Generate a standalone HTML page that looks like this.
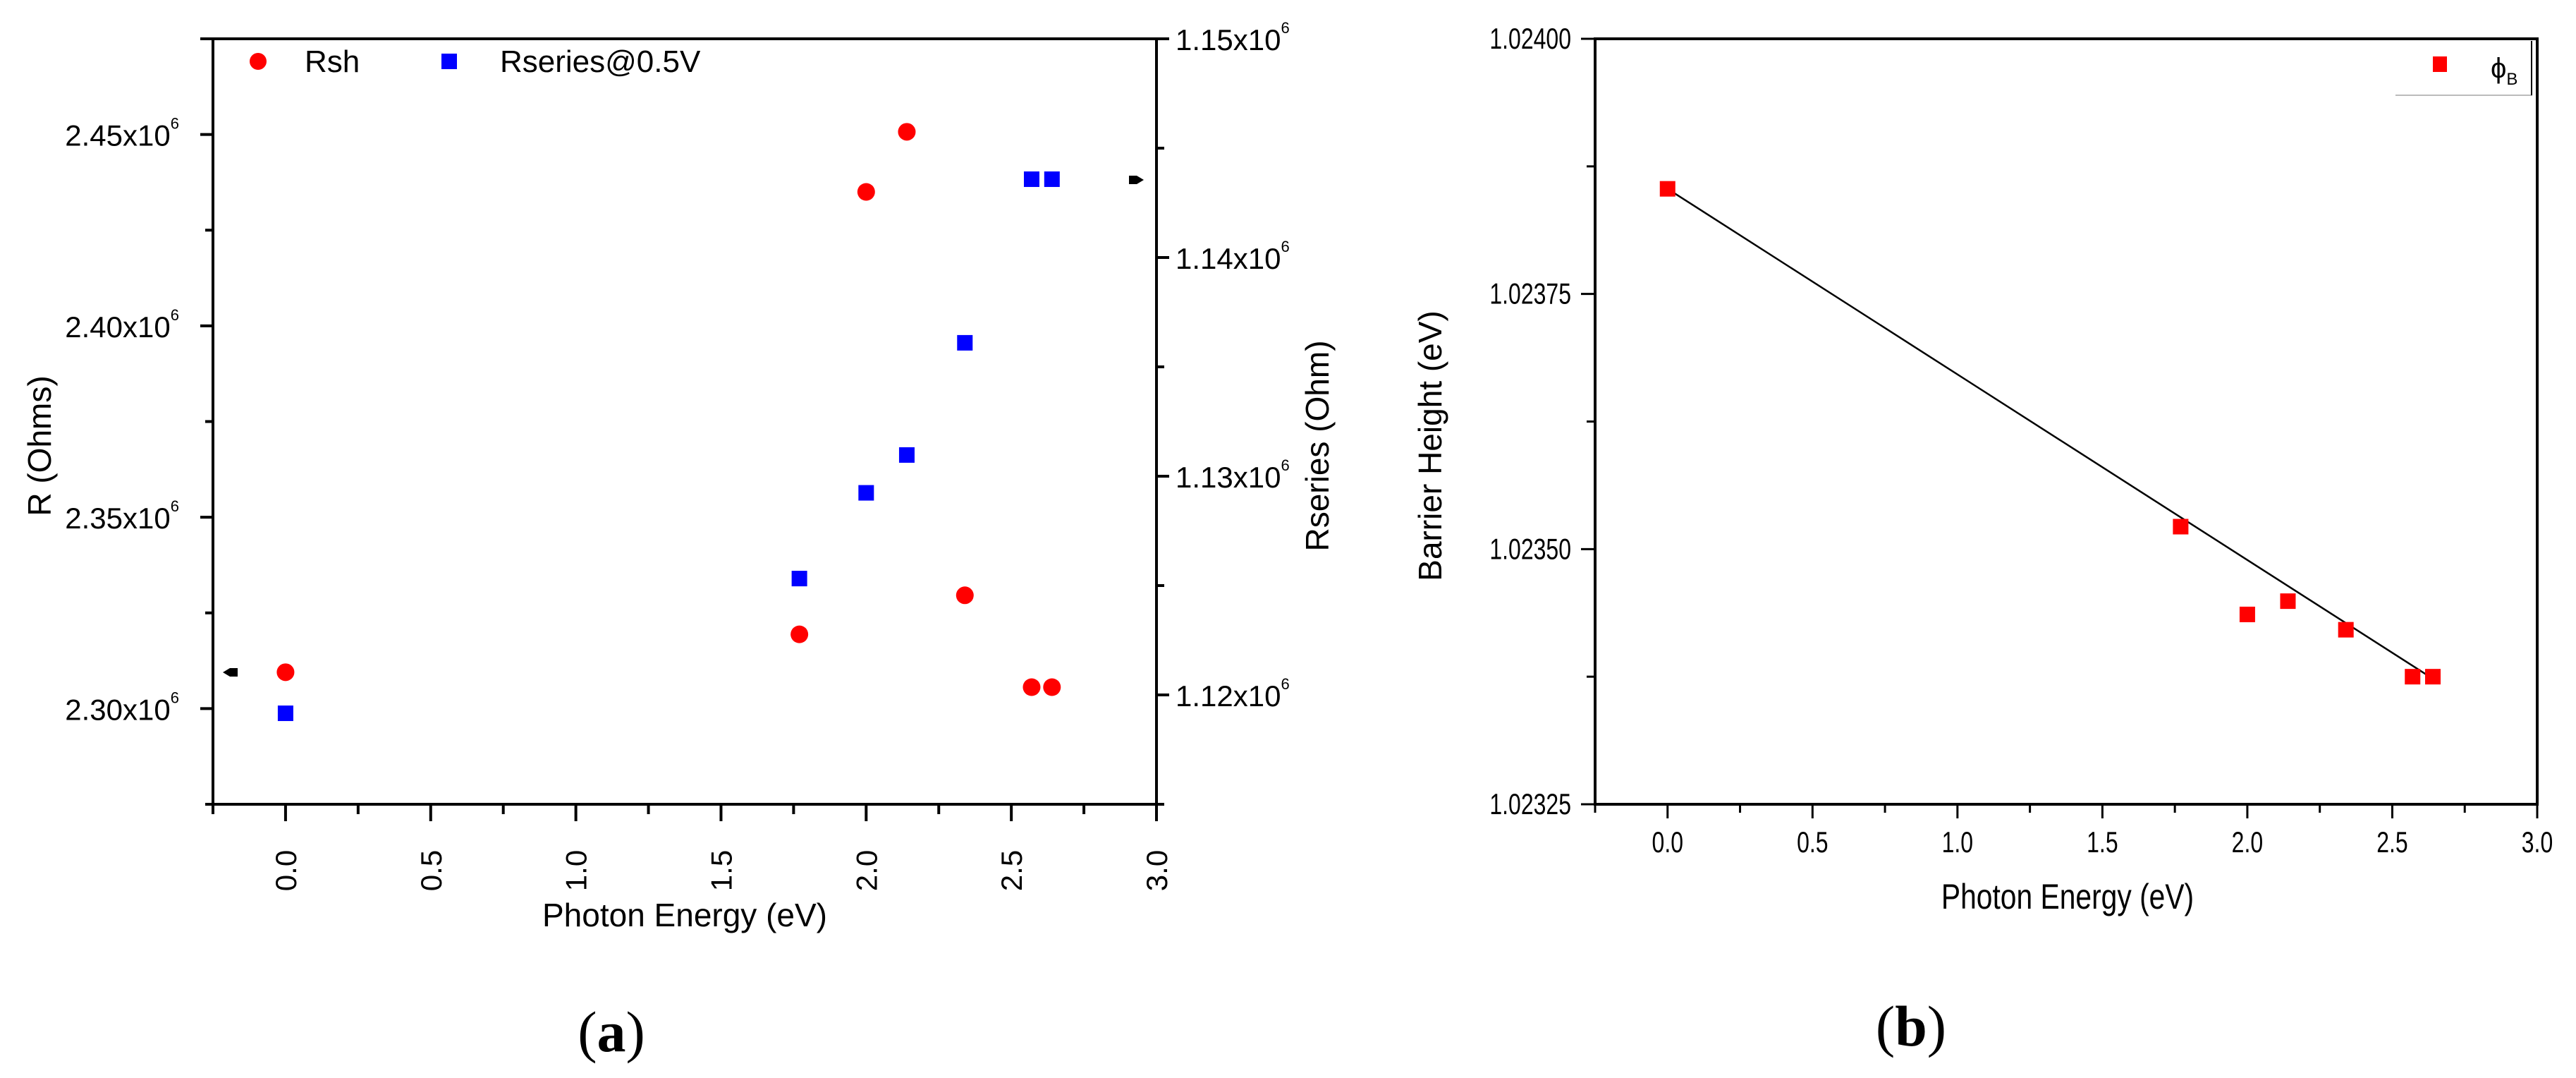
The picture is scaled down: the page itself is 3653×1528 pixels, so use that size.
<!DOCTYPE html>
<html><head><meta charset="utf-8"><style>
html,body{margin:0;padding:0;background:#fff;}
svg{display:block;}
text{font-family:"Liberation Sans",sans-serif;fill:#000;}
text.serif{font-family:"Liberation Serif",serif;}
</style></head><body>
<svg id="fig" width="3653" height="1528" viewBox="0 0 3653 1528" xmlns="http://www.w3.org/2000/svg">
<rect width="3653" height="1528" fill="#fff"/>
<g id="pa"></g>
<g id="pb"></g>
</svg>
<script>
// Panel (a) data
const aEnergy = [0.0, 1.77, 2.0, 2.14, 2.34, 2.57, 2.64];
const rshValues = [2.3095e6, 2.3194e6, 2.435e6, 2.4507e6, 2.3296e6, 2.3056e6, 2.3056e6];
const rseriesValues = [1.11916e6, 1.12532e6, 1.12924e6, 1.13097e6, 1.1361e6, 1.14358e6, 1.14358e6];
const aXTicks = ["0.0","0.5","1.0","1.5","2.0","2.5","3.0"];
const aLeftTicks = ["2.30","2.35","2.40","2.45"];
const aRightTicks = ["1.12","1.13","1.14","1.15"];
// Panel (b) data
const bEnergy = [0.0, 1.77, 2.0, 2.14, 2.34, 2.57, 2.64];
const barrierValues = [1.023853, 1.023522, 1.023436, 1.023449, 1.023421, 1.023375, 1.023375];
const fitX = [0.0, 2.64];
const fitY = [1.023853, 1.023373];
const bXTicks = ["0.0","0.5","1.0","1.5","2.0","2.5","3.0"];
const bYTicks = ["1.02325","1.02350","1.02375","1.02400"];

const NS = "http://www.w3.org/2000/svg";
function mk(parent, tag, attrs, txt){
  const e = document.createElementNS(NS, tag);
  for (const k in attrs) e.setAttribute(k, attrs[k]);
  if (txt !== undefined) e.textContent = txt;
  parent.appendChild(e);
  return e;
}
function lin(d0,d1,r0,r1){return v=>r0+(v-d0)*(r1-r0)/(d1-d0);}

// ---------- Panel A ----------
const pa = document.getElementById('pa');
const aL=302, aR=1640, aT=55, aB=1140;
const ax = lin(-0.25,3.0,aL,aR);
const ayL = lin(2.275e6,2.475e6,aB,aT);
const ayR = lin(1.115e6,1.15e6,aB,aT);
let e;
e = mk(pa,'path',{d:`M${aL} ${aT} V${aB} H${aR} V${aT} H${aL-18}`,fill:'none',stroke:'#000','stroke-width':4});


for (let i=0;i<=13;i++){
  const v=-0.25+i*0.25, major = i%2===1;
  e = mk(pa,'line',{x1:ax(v),x2:ax(v),y1:aB,y2:aB+(major?24:14),stroke:'#000','stroke-width':4});
  
  
}
aXTicks.forEach(t=>{
  const x = ax(parseFloat(t));
  e = mk(pa,'text',{x:0,y:0,'font-size':42,'text-anchor':'middle',transform:`translate(${x+15},1234) rotate(-90)`},t);
  
  
});
for (let i=0;i<=8;i++){
  const v=2.275e6+i*0.025e6, major=(i%2===1);
  e = mk(pa,'line',{x1:aL,x2:aL-(major?18:11),y1:ayL(v),y2:ayL(v),stroke:'#000','stroke-width':4});
  
  
}
aLeftTicks.forEach(t=>{
  const y = ayL(parseFloat(t)*1e6);
  e = mk(pa,'text',{x:254,y:y+16,'font-size':42,'text-anchor':'end'});
  
  
  e.innerHTML = `${t}x10<tspan font-size="22" dy="-24">6</tspan>`;
});
for (let i=0;i<=7;i++){
  const v=1.115e6+i*0.005e6, major=(i%2===1);
  e = mk(pa,'line',{x1:aR,x2:aR+(major?18:11),y1:ayR(v),y2:ayR(v),stroke:'#000','stroke-width':4});
  
  
}
aRightTicks.forEach(t=>{
  const y = ayR(parseFloat(t)*1e6);
  e = mk(pa,'text',{x:1667,y:y+16,'font-size':42,'text-anchor':'start'});
  
  
  e.innerHTML = `${t}x10<tspan font-size="22" dy="-24">6</tspan>`;
});
e = mk(pa,'text',{x:0,y:0,'font-size':46,'text-anchor':'middle',transform:'translate(72,632) rotate(-90)'},'R (Ohms)');


e = mk(pa,'text',{x:0,y:0,'font-size':46,'text-anchor':'middle',transform:'translate(1884,632) rotate(-90)'},'Rseries (Ohm)');


e = mk(pa,'text',{x:971,y:1313,'font-size':46,'text-anchor':'middle'},'Photon Energy (eV)');


e = mk(pa,'path',{d:`M316 953 L326 947 H337 V959 H326 Z`,fill:'#000'});


e = mk(pa,'path',{d:`M1622 255 L1612 249 H1601 V261 H1612 Z`,fill:'#000'});


aEnergy.forEach((x,i)=>{
  e = mk(pa,'circle',{cx:ax(x),cy:ayL(rshValues[i]),r:12.5,fill:'#ff0000'});
  
  
});
aEnergy.forEach((x,i)=>{
  e = mk(pa,'rect',{x:ax(x)-11,y:ayR(rseriesValues[i])-11,width:22,height:22,fill:'#0000ff'});
  
  
});
e = mk(pa,'circle',{cx:366,cy:87,r:12,fill:'#ff0000'});


e = mk(pa,'text',{x:432,y:102,'font-size':44},'Rsh');


e = mk(pa,'rect',{x:626,y:76,width:22,height:22,fill:'#0000ff'});


e = mk(pa,'text',{x:709,y:102,'font-size':44},'Rseries@0.5V');


e = mk(pa,'text',{x:867,y:1490,'font-size':82,'text-anchor':'middle','class':'serif'});


e.innerHTML = '(<tspan font-weight="bold">a</tspan>)';

// ---------- Panel B ----------
const pb = document.getElementById('pb');
const bL=2262, bR=3598, bT=55, bB=1140;
const bx = lin(-0.25,3.0,bL,bR);
const by = lin(1.02325,1.024,bB,bT);
e = mk(pb,'path',{d:`M${bL} ${bT} V${bB} H${bR} V${bT} Z`,fill:'none',stroke:'#000','stroke-width':4});


for (let i=0;i<=13;i++){
  const v=-0.25+i*0.25, major=i%2===1;
  e = mk(pb,'line',{x1:bx(v),x2:bx(v),y1:bB,y2:bB+(major?20:12),stroke:'#000','stroke-width':3});
  
  
}
bXTicks.forEach(t=>{
  e = mk(pb,'text',{x:0,y:0,'font-size':40,'text-anchor':'middle',transform:`translate(${bx(parseFloat(t))},1208) scale(0.8,1.05)`},t);
  
  
});
for (let i=0;i<=6;i++){
  const v=1.02325+i*0.000125, major=i%2===0;
  e = mk(pb,'line',{x1:bL,x2:bL-(major?20:12),y1:by(v),y2:by(v),stroke:'#000','stroke-width':3});
  
  
}
bYTicks.forEach(t=>{
  e = mk(pb,'text',{x:0,y:0,'font-size':40,'text-anchor':'end',transform:`translate(2228,${by(parseFloat(t))+14}) scale(0.8,1.05)`},t);
  
  
});
e = mk(pb,'text',{x:0,y:0,'font-size':46,'text-anchor':'middle',transform:'translate(2044,632) rotate(-90)'},'Barrier Height (eV)');


e = mk(pb,'text',{x:0,y:0,'font-size':48,'text-anchor':'middle',transform:'translate(2932,1288) scale(0.85,1.05)'},'Photon Energy (eV)');


e = mk(pb,'line',{x1:bx(fitX[0]),y1:by(fitY[0]),x2:bx(fitX[1]),y2:by(fitY[1]),stroke:'#000','stroke-width':2.5});


bEnergy.forEach((x,i)=>{
  e = mk(pb,'rect',{x:bx(x)-11,y:by(barrierValues[i])-11,width:22,height:22,fill:'#ff0000'});
  
  
});
e = mk(pb,'path',{d:'M3397 135 H3590 V58',fill:'none',stroke:'#bbb','stroke-width':2});


e = mk(pb,'line',{x1:3590,y1:58,x2:3590,y2:135,stroke:'#000','stroke-width':2});


e = mk(pb,'rect',{x:3450,y:80,width:20,height:22,fill:'#ff0000'});


e = mk(pb,'text',{x:3532,y:110,'font-size':40});


e.innerHTML = 'ϕ<tspan font-size="24" dy="10">B</tspan>';
e = mk(pb,'text',{x:2710,y:1482,'font-size':82,'text-anchor':'middle','class':'serif'});


e.innerHTML = '(<tspan font-weight="bold">b</tspan>)';
</script>
</body></html>
